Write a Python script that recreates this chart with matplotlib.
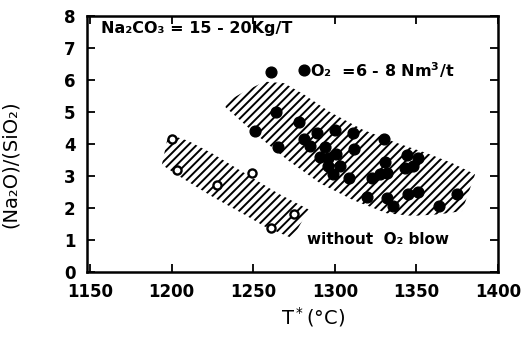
import numpy as np
import matplotlib
matplotlib.use('Agg')
import matplotlib.pyplot as plt

plt.rcParams['font.family'] = ['DejaVu Sans']
plt.rcParams['font.weight'] = 'bold'
plt.rcParams['hatch.linewidth'] = 1.4
plt.rcParams['mathtext.default'] = 'regular'

# ---- data ----
# with O2 blow (filled dots)
o2_T = [1261, 1264, 1251, 1265, 1278, 1281, 1285, 1289, 1300, 1311, 1312,
        1294, 1291, 1301, 1296, 1303, 1296, 1299, 1309, 1330, 1344, 1351,
        1331, 1343, 1348, 1332, 1328, 1323, 1320, 1332, 1345, 1351, 1336,
        1364, 1375]
o2_R = [6.25, 5.0, 4.4, 3.9, 4.7, 4.15, 3.95, 4.35, 4.45, 4.35, 3.85,
        3.9, 3.6, 3.7, 3.55, 3.3, 3.3, 3.05, 2.95, 4.15, 3.65, 3.55,
        3.45, 3.25, 3.3, 3.1, 3.05, 2.95, 2.35, 2.3, 2.45, 2.5, 2.05,
        2.05, 2.45]

# without O2 blow (open circles)
nob_T = [1200, 1203, 1228, 1249, 1261, 1275]
nob_R = [4.15, 3.2, 2.72, 3.1, 1.37, 1.8]

# hatched bands: top edge and bottom edge
o2_band_top_T = [1233, 1245, 1257, 1269, 1281, 1297, 1317, 1337, 1357, 1372, 1386]
o2_band_top_R = [5.3, 5.65, 5.95, 5.9, 5.55, 5.0, 4.45, 4.05, 3.7, 3.4, 3.05]
o2_band_bot_T = [1233, 1251, 1271, 1291, 1311, 1332, 1348, 1364, 1378]
o2_band_bot_R = [5.15, 4.33, 3.5, 2.77, 2.25, 1.83, 1.75, 1.8, 1.9]

nob_band_top_T = [1194, 1198, 1210, 1225, 1245, 1265, 1284]
nob_band_top_R = [3.35, 4.3, 4.1, 3.7, 3.08, 2.46, 1.95]
nob_band_bot_T = [1205, 1225, 1245, 1257, 1274]
nob_band_bot_R = [2.98, 2.35, 1.78, 1.42, 1.05]

x_ticks = [1150, 1200, 1250, 1300, 1350, 1400]
y_ticks = [0, 1, 2, 3, 4, 5, 6, 7, 8]

fig = plt.figure(figsize=(5.23, 3.49), dpi=100)
ax = fig.add_axes([0.166, 0.221, 0.786, 0.733])

for top_T, top_R, bot_T, bot_R in [(o2_band_top_T, o2_band_top_R, o2_band_bot_T, o2_band_bot_R),
                                   (nob_band_top_T, nob_band_top_R, nob_band_bot_T, nob_band_bot_R)]:
    px = np.concatenate([top_T, bot_T[::-1]])
    py = np.concatenate([top_R, bot_R[::-1]])
    ax.fill(px, py, facecolor='none', edgecolor='black', hatch='////',
            linewidth=0, zorder=1)

ax.scatter(o2_T, o2_R, s=60, color='black', zorder=3)
ax.scatter(nob_T, nob_R, s=34, facecolor='white', edgecolor='black',
           linewidth=1.7, zorder=3)

ax.text(1157, 7.6, 'Na₂CO₃ = 15 - 20Kg/T', fontsize=11.5, va='center')
ax.scatter([1281], [6.3], s=60, color='black', zorder=3)
ax.text(1285, 6.3, 'O₂  =6 - 8 Nm$^3$/t', fontsize=11.5, va='center')
ax.text(1283, 1.0, 'without  O₂ blow', fontsize=11, va='center')

ax.set_xlim(1148, 1398)
ax.set_ylim(0, 8)
ax.set_xticks(x_ticks)
ax.set_yticks(y_ticks)
ax.tick_params(direction='in', length=6, width=1.3, top=True, right=True,
               labelsize=12, pad=8)
for s in ax.spines.values():
    s.set_linewidth(1.8)

ax.set_xlabel('T$^*$(°C)', fontsize=14)
ax.xaxis.set_label_coords(0.55, -0.13)
ax.set_ylabel('(Na₂O)/(SiO₂)', fontsize=14)
ax.yaxis.set_label_coords(-0.163, 0.42)

plt.savefig('out.png', dpi=100)
